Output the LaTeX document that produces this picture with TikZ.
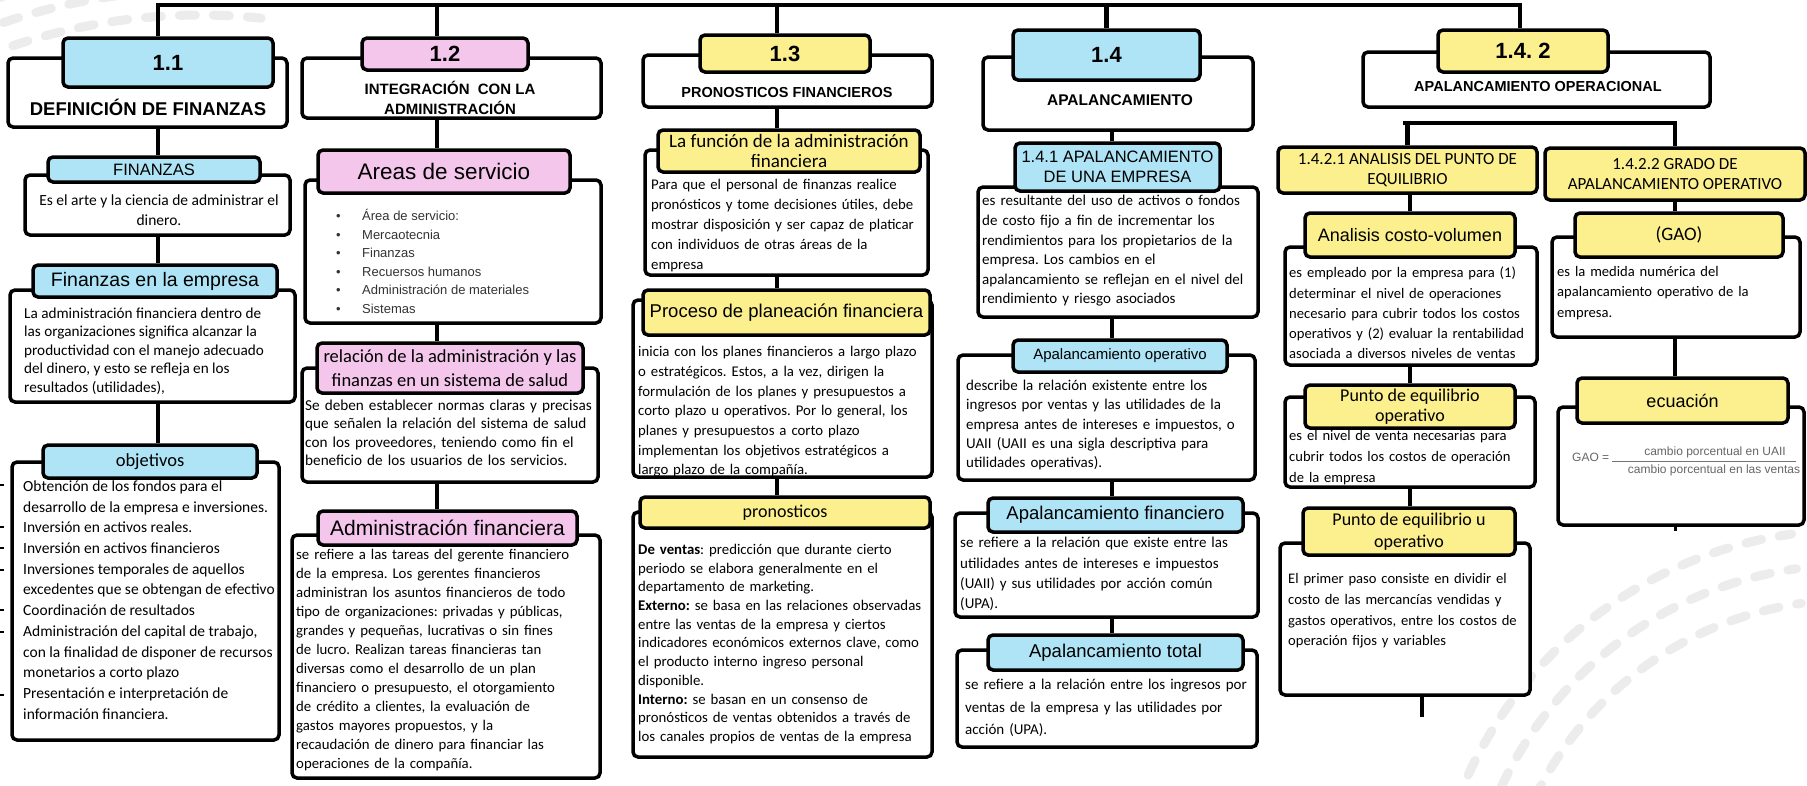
\documentclass[tikz,border=0pt]{standalone}
\usepackage{fontspec}
\setmainfont{Carlito}
\newfontfamily\arial{Liberation Sans}
\definecolor{cyanT}{HTML}{AEE4F6}
\definecolor{pinkT}{HTML}{F4C6EC}
\definecolor{yellowT}{HTML}{FBEF8E}
\newcommand\fsz[2]{\fontsize{#1}{#2}\selectfont}
\newcommand\JL[1]{\makebox[\linewidth][s]{#1}\\}
\newcommand\bxn[7]{\node[#1, minimum width={(#5)-(#3)}, minimum height={(#6)-(#4)}] (#2) at ({((#3)+(#5))/2},{((#4)+(#6))/2}) {#7};}
\frenchspacing
\begin{document}
\begin{tikzpicture}[x=1pt,y=-1pt,
  bx/.style={draw=black, line width=3.5pt, rounded corners=5pt, fill=white, inner sep=0pt},
  tabc/.style={bx, fill=cyanT},
  tabp/.style={bx, fill=pinkT},
  taby/.style={bx, fill=yellowT},
  conn/.style={draw=black, line width=4.5pt},
  tx/.style={inner sep=0pt, anchor=west},
  wm/.style={draw=gray!15, line width=9pt, line cap=round, dash pattern=on 16pt off 18pt},
]
\useasboundingbox (0,0) rectangle (1807,785);
\fill[white] (0,0) rectangle (1807,785);
% watermark arcs
\foreach \r in {585,610,635} \draw[wm] (200,600) ++(248:\r) arc[start angle=248, end angle=276, radius=\r];
\foreach \r in {350,385,420} \draw[wm] (1850,950) ++(200:\r) arc[start angle=200, end angle=262, radius=\r];

\coordinate (top) at (0,5);
\coordinate (c1) at (158,0);
\coordinate (c2) at (437,0);
\coordinate (c3) at (777,0);
\coordinate (c4) at (1112,0);
\coordinate (c5) at (1520,0);
\coordinate (c5a) at (1410,0);
\coordinate (c5b) at (1675,0);

% ---------------- column 1
\bxn{bx}{outer11}{8}{58}{287}{127}{}
\bxn{tabc, font=\arial\bfseries\fsz{22}{24}}{tab11}{63}{38}{273}{87}{1.1}
\node[inner sep=0pt, font=\arial\bfseries\fsz{18.5}{20}] (title11) at (148,107) {DEFINICIÓN DE FINANZAS};

\bxn{bx}{bodyFin}{25}{175}{290}{235}{}
\bxn{tabc, font=\arial\fsz{16.5}{18}}{tabFin}{48}{157}{260}{182}{FINANZAS}
\node[inner sep=0pt, align=center, font=\fsz{15.5}{20}] (tFin) at (159,210) {Es el arte y la ciencia de administrar el\\dinero.};

\bxn{bx}{bodyFE}{10}{290}{295}{402}{}
\bxn{tabc, font=\arial\fsz{19.5}{21}}{tabFE}{33}{265}{277}{297}{Finanzas en la empresa}
\node[tx, align=left, font=\fsz{15.2}{18.5}] (tFE) at (24,351) {La administración financiera dentro de\\las organizaciones significa alcanzar la\\productividad con el manejo adecuado\\del dinero, y esto se refleja en los\\resultados (utilidades),};

\bxn{bx}{bodyObj}{12}{462}{279}{740}{}
\bxn{tabc, font=\fsz{18.5}{20}}{tabObj}{43}{445}{257}{478}{objetivos}
\node[tx, align=left, font=\fsz{15.5}{20.7}] (tObj) at (23,600) {Obtención de los fondos para el\\desarrollo de la empresa e inversiones.\\Inversión en activos reales.\\Inversión en activos financieros\\Inversiones temporales de aquellos\\excedentes que se obtengan de efectivo\\Coordinación de resultados\\Administración del capital de trabajo,\\con la finalidad de disponer de recursos\\monetarios a corto plazo\\Presentación e interpretación de\\información financiera.};
\foreach \yy in {485,527,548,570,610,632,695} \draw[line width=1.2pt] (0,\yy) -- (3.5,\yy);

\draw[conn] (outer11.south -| c1) -- (tabFin.north -| c1);
\draw[conn] (bodyFin.south -| c1) -- (tabFE.north -| c1);
\draw[conn] (bodyFE.south -| c1) -- (tabObj.north -| c1);

% ---------------- column 2
\bxn{bx}{outer12}{302}{58}{601}{118}{}
\bxn{tabp, font=\arial\bfseries\fsz{22}{24}}{tab12}{362}{38}{528}{70}{1.2}
\node[inner sep=0pt, align=center, font=\arial\bfseries\fsz{15}{20}] (title12) at (450,98) {INTEGRACIÓN\ \ CON LA\\ADMINISTRACIÓN};

\bxn{bx}{bodyAreas}{305}{180}{601}{323}{}
\bxn{tabp, font=\arial\fsz{22.5}{24}}{tabAreas}{318}{150}{570}{193}{Areas de servicio}
\node[tx, align=left, font=\arial\fsz{13}{18.6}, text=black!80] (tAreas) at (336,261.5) {\makebox[26pt][l]{\textbullet}Área de servicio:\\\makebox[26pt][l]{\textbullet}Mercaotecnia\\\makebox[26pt][l]{\textbullet}Finanzas\\\makebox[26pt][l]{\textbullet}Recuersos humanos\\\makebox[26pt][l]{\textbullet}Administración de materiales\\\makebox[26pt][l]{\textbullet}Sistemas};

\bxn{bx}{bodyRel}{302}{368}{598}{482}{}
\bxn{tabp, align=center, font=\fsz{18.5}{24}}{tabRel}{317}{343}{583}{393}{relación de la administración y las\\finanzas en un sistema de salud}
\node[tx, text width=291pt, font=\fsz{15.2}{18.5}] (tRel) at (305,433) {\JL{Se deben establecer normas claras y precisas}\JL{que señalen la relación del sistema de salud}\JL{con los proveedores, teniendo como fin el}beneficio de los usuarios de los servicios.};

\bxn{bx}{bodyAF}{292}{535}{600}{778}{}
\bxn{tabp, font=\arial\fsz{21}{23}}{tabAF}{318}{511}{577}{545}{Administración financiera}
\node[tx, text width=300pt, font=\fsz{14.8}{19}] (tAF) at (296,660.5) {\JL{se refiere a las tareas del gerente financiero}\JL{de la empresa. Los gerentes financieros}\JL{administran los asuntos financieros de todo}\JL{tipo de organizaciones: privadas y públicas,}\JL{grandes y pequeñas, lucrativas o sin fines}\JL{de lucro. Realizan tareas financieras tan}\JL{diversas como el desarrollo de un plan}\JL{financiero o presupuesto, el otorgamiento}\JL{de crédito a clientes, la evaluación de}\JL{gastos mayores propuestos, y la}\JL{recaudación de dinero para financiar las}operaciones de la compañía.};

\draw[conn] (top -| c2) -- (tab12.north -| c2);
\draw[conn] (outer12.south -| c2) -- (tabAreas.north -| c2);
\draw[conn] (bodyAreas.south -| c2) -- (tabRel.north -| c2);
\draw[conn] (bodyRel.south -| c2) -- (tabAF.north -| c2);

% ---------------- column 3
\bxn{bx}{outer13}{643}{55}{932}{107}{}
\bxn{taby, font=\arial\bfseries\fsz{22}{24}}{tab13}{700}{35}{870}{72}{1.3}
\node[inner sep=0pt, font=\arial\bfseries\fsz{14.5}{16}] (title13) at (787,93) {PRONOSTICOS FINANCIEROS};

\bxn{bx}{bodyFun}{645}{150}{928}{275}{}
\bxn{taby, align=center, font=\fsz{19}{19.5}}{tabFun}{658}{130}{920}{172}{La función de la administración\\financiera}
\node[tx, text width=273pt, font=\fsz{14.8}{20}] (tFun) at (651,226) {\JL{Para que el personal de finanzas realice}\JL{pronósticos y tome decisiones útiles, debe}\JL{mostrar disposición y ser capaz de platicar}\JL{con individuos de otras áreas de la}empresa};

\bxn{bx}{bodyProc}{633}{300}{932}{477}{}
\bxn{taby, font=\arial\fsz{18.5}{20}}{tabProc}{643}{290}{930}{335}{Proceso de planeación financiera}
\node[tx, text width=291pt, font=\fsz{14.8}{19.7}] (tProc) at (638,412) {\JL{inicia con los planes financieros a largo plazo}\JL{o estratégicos. Estos, a la vez, dirigen la}\JL{formulación de los planes y presupuestos a}\JL{corto plazo u operativos. Por lo general, los}\JL{planes y presupuestos a corto plazo}\JL{implementan los objetivos estratégicos a}largo plazo de la compañía.};

\bxn{bx}{bodyPron}{633}{512}{932}{757}{}
\bxn{taby, font=\fsz{18}{20}}{tabPron}{640}{497}{930}{528}{pronosticos}
\node[tx, text width=291pt, font=\fsz{14.8}{18.7}] (tPron) at (638,644) {\JL{\textbf{De ventas}: predicción que durante cierto}\JL{periodo se elabora generalmente en el}departamento de marketing.\\\JL{\textbf{Externo:} se basa en las relaciones observadas}\JL{entre las ventas de la empresa y ciertos}\JL{indicadores económicos externos clave, como}\JL{el producto interno ingreso personal}disponible.\\\JL{\textbf{Interno:} se basan en un consenso de}\JL{pronósticos de ventas obtenidos a través de}los canales propios de ventas de la empresa};

\draw[conn] (top -| c3) -- (tab13.north -| c3);
\draw[conn] (outer13.south -| c3) -- (tabFun.north -| c3);
\draw[conn] (bodyFun.south -| c3) -- (tabProc.north -| c3);
\draw[conn] (bodyProc.south -| c3) -- (tabPron.north -| c3);

% ---------------- column 4
\bxn{bx}{outer14}{983}{57}{1253}{130}{}
\bxn{tabc, font=\arial\bfseries\fsz{22}{24}}{tab14}{1013}{30}{1200}{80}{1.4}
\node[inner sep=0pt, font=\arial\bfseries\fsz{15.5}{17}] (title14) at (1120,100) {APALANCAMIENTO};

\bxn{bx}{bodyAE}{978}{187}{1258}{317}{}
\bxn{tabc, align=center, font=\arial\fsz{16.5}{19.5}}{tabAE}{1015}{143}{1220}{191}{1.4.1 APALANCAMIENTO\\DE UNA EMPRESA}
\node[tx, text width=273pt, font=\fsz{15}{19.6}] (tAE) at (982,251) {\JL{es resultante del uso de activos o fondos}\JL{de costo fijo a fin de incrementar los}\JL{rendimientos para los propietarios de la}\JL{empresa. Los cambios en el}\JL{apalancamiento se reflejan en el nivel del}rendimiento y riesgo asociados};

\bxn{bx}{bodyAO}{958}{355}{1255}{480}{}
\bxn{tabc, font=\arial\fsz{15}{17}}{tabAO}{1013}{340}{1227}{372}{Apalancamiento operativo}
\node[tx, text width=284pt, font=\fsz{15}{19.2}] (tAO) at (966,425) {\JL{describe la relación existente entre los}\JL{ingresos por ventas y las utilidades de la}\JL{empresa antes de intereses e impuestos, o}\JL{UAII (UAII es una sigla descriptiva para}utilidades operativas).};

\bxn{bx}{bodyAF2}{955}{513}{1258}{617}{}
\bxn{tabc, font=\arial\fsz{18.5}{20}}{tabAF2}{988}{498}{1243}{532}{Apalancamiento financiero}
\node[tx, text width=294pt, font=\fsz{15}{20.3}] (tAF2) at (960,574) {\JL{se refiere a la relación que existe entre las}\JL{utilidades antes de intereses e impuestos}\JL{(UAII) y sus utilidades por acción común}(UPA).};

\bxn{bx}{bodyAT}{957}{650}{1257}{747}{}
\bxn{tabc, font=\arial\fsz{18.5}{20}}{tabAT}{988}{635}{1243}{670}{Apalancamiento total}
\node[tx, text width=287pt, font=\fsz{15}{22.5}] (tAT) at (965,708) {\JL{se refiere a la relación entre los ingresos por}\JL{ventas de la empresa y las utilidades por}acción (UPA).};

\draw[conn] (top -| tab14.north) -- (tab14.north);
\draw[conn] (outer14.south -| c4) -- (tabAE.north -| c4);
\draw[conn] (bodyAE.south -| c4) -- (tabAO.north -| c4);
\draw[conn] (bodyAO.south -| c4) -- (tabAF2.north -| c4);
\draw[conn] (bodyAF2.south -| c4) -- (tabAT.north -| c4);

% ---------------- column 5
\bxn{bx}{outer142}{1363}{52}{1710}{107}{}
\bxn{taby, font=\arial\bfseries\fsz{22}{24}}{tab142}{1438}{30}{1608}{72}{1.4. 2}
\node[inner sep=0pt, font=\arial\bfseries\fsz{14.5}{16}] (title142) at (1538,87) {APALANCAMIENTO OPERACIONAL};
\coordinate (hbL) at (1403,123);
\coordinate (hbR) at (1677,123);

\bxn{taby, align=center, font=\fsz{17}{20}}{tab1421}{1278}{147}{1537}{193}{1.4.2.1 ANALISIS DEL PUNTO DE\\EQUILIBRIO}

\bxn{bx}{bodyACV}{1285}{247}{1537}{365}{}
\bxn{taby, font=\arial\fsz{18}{20}}{tabACV}{1305}{213}{1515}{257}{Analisis costo-volumen}
\node[tx, text width=246pt, font=\fsz{14.6}{20.2}] (tACV) at (1289,313) {\JL{es empleado por la empresa para (1)}\JL{determinar el nivel de operaciones}\JL{necesario para cubrir todos los costos}\JL{operativos y (2) evaluar la rentabilidad}asociada a diversos niveles de ventas};

\bxn{bx}{bodyPEO}{1285}{397}{1535}{487}{}
\bxn{taby, align=center, font=\fsz{18}{20}}{tabPEO}{1305}{385}{1515}{428}{Punto de equilibrio\\operativo}
\node[tx, text width=244pt, font=\fsz{14.6}{21}] (tPEO) at (1289,458) {\JL{es el nivel de venta necesarias para}\JL{cubrir todos los costos de operación}de la empresa};

\bxn{bx}{bodyPEU}{1280}{543}{1530}{695}{}
\bxn{taby, align=center, font=\fsz{18}{22}}{tabPEU}{1303}{508}{1515}{555}{Punto de equilibrio u\\operativo}
\node[tx, text width=240pt, font=\fsz{14.6}{20.7}] (tPEU) at (1288,611) {\JL{El primer paso consiste en dividir el}\JL{costo de las mercancías vendidas y}\JL{gastos operativos, entre los costos de}operación fijos y variables};
\coordinate (stubPEU) at (1422,717);

\bxn{taby, align=center, font=\fsz{17}{20}}{tab1422}{1545}{148}{1805}{200}{1.4.2.2 GRADO DE\\APALANCAMIENTO OPERATIVO}

\bxn{bx}{bodyGAO}{1552}{237}{1800}{337}{}
\bxn{taby, font=\fsz{19}{20}}{tabGAO}{1575}{213}{1783}{257}{(GAO)}
\node[tx, text width=243pt, font=\fsz{14.6}{20.5}] (tGAO) at (1557,293) {\JL{es la medida numérica del}\JL{apalancamiento operativo de la}empresa.};

\bxn{bx}{bodyEcu}{1558}{407}{1804}{525}{}
\bxn{taby, font=\arial\fsz{18}{20}}{tabEcu}{1577}{378}{1788}{423}{ecuación}
\node[anchor=west, inner sep=0pt, font=\arial\fsz{12}{13}, text=black!60] (gao) at (1572,457) {GAO =};
\node[inner sep=0pt, font=\arial\fsz{12}{13}, text=black!60] (num) at (1715,452) {cambio porcentual en UAII};
\node[inner sep=0pt, font=\arial\fsz{12}{13}, text=black!60] (den) at (1714,470) {cambio porcentual en las ventas};
\draw[black!55, line width=0.8pt] (1612,461) -- (1796,461);
\coordinate (stubEcu) at (1675,531);

% top bar
\draw[conn] (tab11.north -| c1) -- (top -| c1) -- (top -| c5) -- (tab142.north -| c5);

\draw[conn] (hbL) -- (hbR);
\draw[conn] (hbL -| tab1421.north) -- (tab1421.north);
\draw[conn] (hbR -| tab1422.north) -- (tab1422.north);
\draw[conn] (tab1421.south -| c5a) -- (tabACV.north -| c5a);
\draw[conn] (bodyACV.south -| c5a) -- (tabPEO.north -| c5a);
\draw[conn] (bodyPEO.south -| c5a) -- (tabPEU.north -| c5a);
\draw[conn] (bodyPEU.south -| stubPEU) -- (stubPEU);
\draw[conn] (tab1422.south -| c5b) -- (tabGAO.north -| c5b);
\draw[conn] (bodyGAO.south -| c5b) -- (tabEcu.north -| c5b);
\draw[conn, line width=3pt] (bodyEcu.south -| stubEcu) -- (stubEcu);
\end{tikzpicture}
\end{document}
